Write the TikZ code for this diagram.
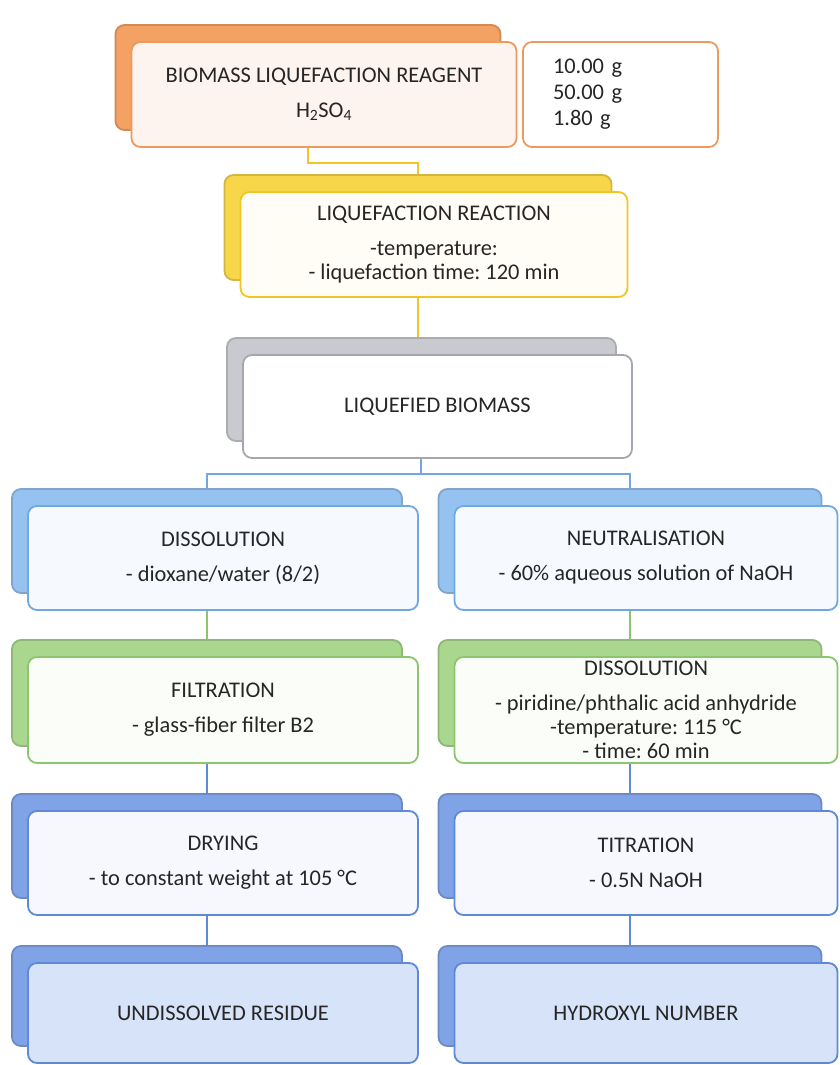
\documentclass[tikz,border=0pt]{standalone}
\usepackage{fontspec}
\setmainfont{Carlito}
\frenchspacing
\usetikzlibrary{shadows,calc,backgrounds}

\definecolor{txt}{HTML}{262626}
\definecolor{orgback}{HTML}{F4A264}
\definecolor{orgline}{HTML}{EE9A5C}
\definecolor{orgfill}{HTML}{FDF3EF}
\definecolor{yelback}{HTML}{F7D64A}
\definecolor{yelline}{HTML}{F2C526}
\definecolor{yelfill}{HTML}{FFFDF6}
\definecolor{gryback}{HTML}{C8CACF}
\definecolor{gryline}{HTML}{A4A7AD}
\definecolor{bluback}{HTML}{95C2F0}
\definecolor{bluline}{HTML}{72A8E2}
\definecolor{blufill}{HTML}{F6F9FE}
\definecolor{grnback}{HTML}{A9D78E}
\definecolor{grnline}{HTML}{8CC56D}
\definecolor{grnfill}{HTML}{FBFDF9}
\definecolor{dbluback}{HTML}{7FA3E6}
\definecolor{dbluline}{HTML}{5E88D8}
\definecolor{dblufill}{HTML}{F6F8FE}
\definecolor{resfill}{HTML}{D6E3F8}

\tikzset{
  box/.style={rounded corners=9pt, line width=1.8pt, minimum width=388pt,
    minimum height=104pt, align=center, text=txt,
    font=\fontsize{22.4}{24}\selectfont},
  back/.style={copy shadow={fill=#1, draw=#1!85!black, shadow xshift=-16pt, shadow yshift=17pt}},
  orgbox/.style={box, draw=orgline, fill=orgfill, back=orgback},
  yelbox/.style={box, draw=yelline, fill=yelfill, back=yelback},
  grybox/.style={box, draw=gryline, fill=white, back=gryback},
  blubox/.style={box, draw=bluline, fill=blufill, back=bluback},
  grnbox/.style={box, draw=grnline, fill=grnfill, back=grnback},
  dblubox/.style={box, draw=dbluline, fill=dblufill, back=dbluback},
  resbox/.style={box, draw=dbluline, fill=resfill, back=dbluback},
  link/.style={line width=2pt}
}

\begin{document}
\begin{tikzpicture}[x=1pt,y=-1pt]
\useasboundingbox (0,0) rectangle (839,1065);
% top
\node[orgbox, minimum width=385pt, minimum height=105pt] (reag) at (324,94.5)
  {BIOMASS LIQUEFACTION REAGENT\\[11pt]H\textsubscript{2}SO\textsubscript{4}};
\node[box, draw=orgline, fill=white, minimum width=195pt, minimum height=105pt,
  text width=135pt, inner xsep=30pt, align=left, font=\fontsize{22.4}{26}\selectfont]
  (mass) at (620.5,94.5) {10.00 g\\50.00 g\\1.80 g};
\node[yelbox, minimum width=387pt, minimum height=105pt] (react) at (434,244.5)
  {LIQUEFACTION REACTION\\[11pt]-temperature:\\- liquefaction time: 120 min};
\node[grybox, minimum width=389pt, minimum height=103pt] (liq) at (437.5,406.5)
  {LIQUEFIED BIOMASS};
% left column
\node[blubox, minimum width=390pt] (dis) at (223,558)
  {DISSOLUTION\\[11pt]- dioxane/water (8/2)};
\node[grnbox, minimum width=390pt, minimum height=106pt] (filt) at (223,710)
  {FILTRATION\\[11pt]- glass-fiber filter B2};
\node[dblubox, minimum width=390pt] (dry) at (223,863)
  {DRYING\\[11pt]- to constant weight at 105 °C};
\node[resbox, minimum width=390pt, minimum height=100pt] (res) at (223,1013)
  {UNDISSOLVED RESIDUE};
% right column
\node[blubox, minimum width=383pt] (neu) at (646,558)
  {NEUTRALISATION\\[11pt]- 60\% aqueous solution of NaOH};
\node[grnbox, minimum width=383pt, minimum height=106pt] (dis2) at (646,710)
  {DISSOLUTION\\[11pt]- piridine/phthalic acid anhydride\\-temperature: 115 °C\\- time: 60 min};
\node[dblubox, minimum width=383pt] (tit) at (646,863)
  {TITRATION\\[11pt]- 0.5N NaOH};
\node[resbox, minimum width=383pt, minimum height=100pt] (hyd) at (646,1013)
  {HYDROXYL NUMBER};
% links
\begin{scope}[on background layer]
\draw[link, draw=yelline] ($(reag.south)+(-16,0)$) -- ++(0,15) -| ($(react.north)+(-16,0)$);
\draw[link, draw=yelline] ($(react.south)+(-16,0)$) coordinate (r1) -- (r1 |- liq.north);
\draw[link, draw=bluline] ($(liq.south)+(-16.5,0)$) -- ++(0,15) coordinate (fork)
  -| ($(dis.north)+(-16,0)$)
  (fork) -| ($(neu.north)+(-16,0)$);
\draw[link, draw=grnline] ($(dis.south)+(-16,0)$) -- ($(filt.north)+(-16,0)$);
\draw[link, draw=grnline] ($(neu.south)+(-16,0)$) -- ($(dis2.north)+(-16,0)$);
\draw[link, draw=dbluline] ($(filt.south)+(-16,0)$) -- ($(dry.north)+(-16,0)$);
\draw[link, draw=dbluline] ($(dis2.south)+(-16,0)$) -- ($(tit.north)+(-16,0)$);
\draw[link, draw=dbluline] ($(dry.south)+(-16,0)$) -- ($(res.north)+(-16,0)$);
\draw[link, draw=dbluline] ($(tit.south)+(-16,0)$) -- ($(hyd.north)+(-16,0)$);
\end{scope}
\end{tikzpicture}
\end{document}
